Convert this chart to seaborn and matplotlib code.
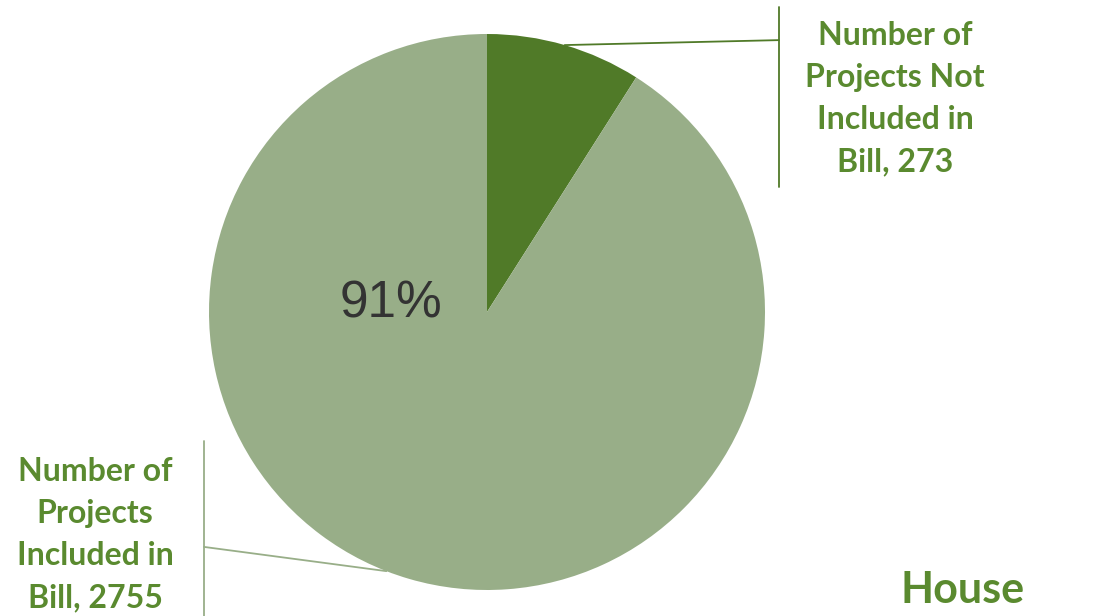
"""
House projects pie chart
"""
import numpy as np
import matplotlib
matplotlib.use("Agg")
import matplotlib.pyplot as plt
import seaborn as sns

# Data
categories = ["Number of\nProjects Not\nIncluded in\nBill", "Number of\nProjects\nIncluded in\nBill"]
counts = [273, 2755]
slice_colors = ["#507a28", "#98ae88"]
title_text = "House"

sns.set_theme(style="white")
plt.rcParams['font.family'] = ['Lato', 'DejaVu Sans']

TEXT_GREEN = "#5a8a2f"

fig = plt.figure(figsize=(11.01, 6.16), dpi=100)
# pie centre ~(487, 312) px, radius ~278 px
ax = fig.add_axes([209 / 1101, (616 - 590) / 616, 556 / 1101, 556 / 616])

wedges, _ = ax.pie(counts, colors=slice_colors, startangle=90, counterclock=False,
                   radius=1.0, wedgeprops=dict(linewidth=0))
ax.set_xlim(-1, 1)
ax.set_ylim(-1, 1)
ax.set_aspect("equal")
ax.axis("off")

# percent label for the big slice
share = counts[1] / sum(counts)
ax.text(-0.345, 0.03, f"{share:.0%}", ha="center", va="center", fontsize=37,
        color="#333333", family=["Liberation Sans", "DejaVu Sans"])

# leader lines from wedge mid-angles
def mid_point(w, shift=0.0):
    ang = np.deg2rad((w.theta1 + w.theta2) / 2 + shift)
    return np.cos(ang), np.sin(ang)

x0, y0 = mid_point(wedges[0])
ax.plot([x0, 1.05], [y0, 0.978], color=slice_colors[0], lw=1.3, clip_on=False)
ax.plot([1.05, 1.05], [1.097, 0.45], color=slice_colors[0], lw=1.3, clip_on=False)

x1, y1 = mid_point(wedges[1], shift=-5)
ax.plot([x1, -1.018], [y1, -0.845], color=slice_colors[1], lw=1.3, clip_on=False)
ax.plot([-1.018, -1.018], [-0.464, -1.2], color=slice_colors[1], lw=1.3, clip_on=False)

# category labels
ax.text(1.468, 0.768, f"{categories[0]}, {counts[0]}", ha="center", va="center",
        fontsize=23, fontweight="bold", color=TEXT_GREEN, linespacing=1.55)
ax.text(-1.41, -0.80, f"{categories[1]}, {counts[1]}", ha="center", va="center",
        fontsize=23, fontweight="bold", color=TEXT_GREEN, linespacing=1.55)

# title
ax.text(1.709, -1.0, title_text, ha="center", va="center", fontsize=31,
        fontweight="bold", color=TEXT_GREEN)

fig.savefig("out.png", dpi=100, facecolor="white")
